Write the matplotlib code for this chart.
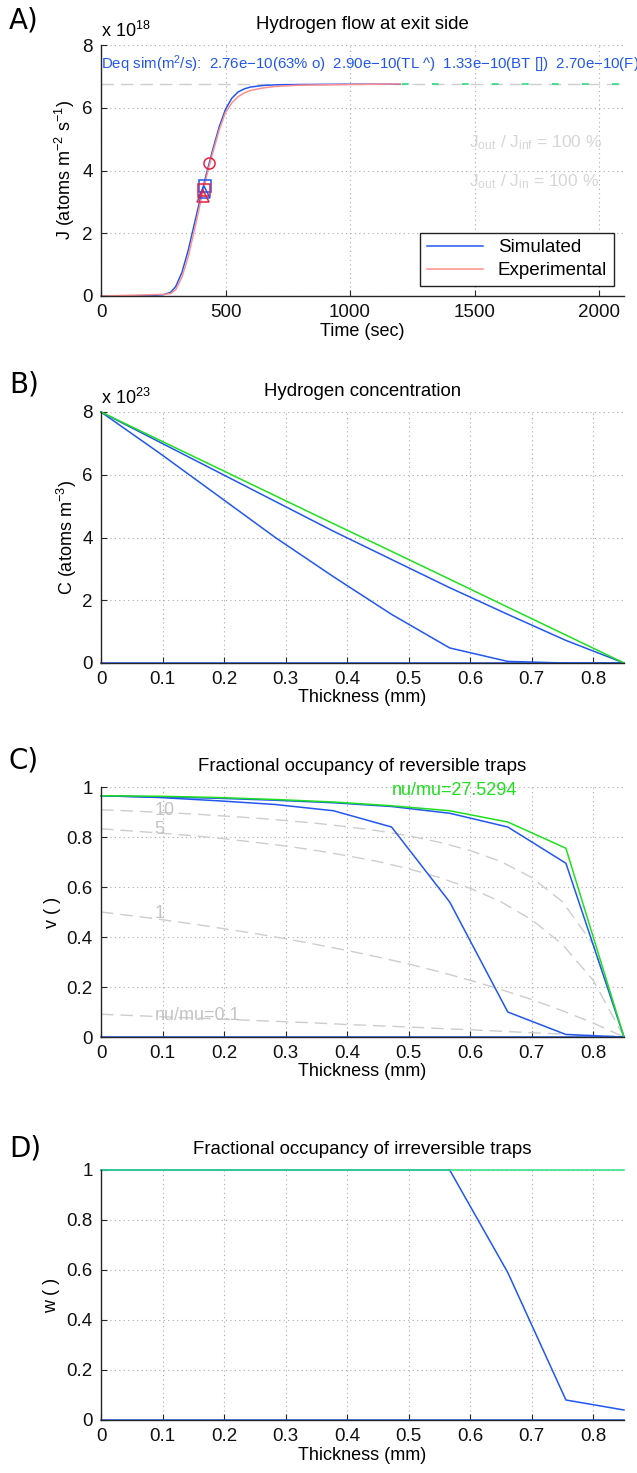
import matplotlib
matplotlib.use('Agg')
import matplotlib.pyplot as plt

plt.rcParams['font.family'] = ['Liberation Sans', 'DejaVu Sans']
plt.rcParams['mathtext.fontset'] = 'custom'
plt.rcParams['mathtext.rm'] = 'Liberation Sans'
plt.rcParams['mathtext.it'] = 'Liberation Sans:italic'
plt.rcParams['mathtext.default'] = 'regular'

BLUE = '#2157ee'
PINK = '#ff8f8f'
RED = '#e8203c'
GREEN = '#1fe01f'
TEAL = '#2bdc84'
GRAY = '#cdcdcd'

# A) hydrogen flow at exit side (J in units of 1e18 atoms m^-2 s^-1)
time_sim = [0, 100, 200, 250, 280, 300, 325, 350, 375, 400, 425, 450, 475, 500,
            525, 550, 575, 600, 650, 700, 800, 1000, 1200]
j_sim = [0, 0, 0.01, 0.04, 0.12, 0.3, 0.75, 1.45, 2.3, 3.15, 3.95, 4.7, 5.4, 5.95,
         6.3, 6.5, 6.6, 6.66, 6.71, 6.73, 6.74, 6.75, 6.75]
time_exp = [0, 100, 200, 250, 280, 300, 325, 350, 375, 400, 425, 450, 475, 500,
            525, 550, 575, 600, 650, 700, 800, 1000, 1200]
j_exp = [0, 0.02, 0.04, 0.05, 0.08, 0.2, 0.6, 1.25, 2.1, 3.0, 3.85, 4.6, 5.3, 5.85,
         6.15, 6.35, 6.47, 6.55, 6.63, 6.68, 6.72, 6.74, 6.76]
j_inf = 6.75
time_end = [1210, 2100]
mark_shape = ['o', 's', 's', '^', '^']
mark_time = [433, 418, 415, 412, 409]
mark_j = [4.25, 3.5, 3.38, 3.3, 3.2]
mark_color = [RED, BLUE, RED, BLUE, RED]
deq_text = (r'Deq sim(m$^2$/s):  2.76e$-$10(63% o)  2.90e$-$10(TL ^)  '
            r'1.33e$-$10(BT [])  2.70e$-$10(F)')

# B) - D) profiles through the thickness
thickness = [0, 0.0944, 0.1889, 0.2833, 0.3778, 0.4722, 0.5667, 0.6611, 0.7556, 0.85]
conc_init = [0, 0, 0, 0, 0, 0, 0, 0, 0, 0]
conc_early = [8, 6.7, 5.35, 4.0, 2.75, 1.55, 0.48, 0.05, 0.0, 0]
conc_mid = [8, 7.05, 6.1, 5.15, 4.2, 3.3, 2.4, 1.55, 0.72, 0]
conc_final = [8, 7.11, 6.22, 5.33, 4.44, 3.56, 2.67, 1.78, 0.89, 0]

v_init = [0, 0, 0, 0, 0, 0, 0, 0, 0, 0]
v_early = [0.965, 0.958, 0.945, 0.93, 0.905, 0.84, 0.54, 0.10, 0.01, 0]
v_mid = [0.965, 0.96, 0.955, 0.947, 0.937, 0.922, 0.895, 0.84, 0.695, 0]
v_final = [0.965, 0.963, 0.958, 0.95, 0.94, 0.925, 0.905, 0.86, 0.755, 0]

# equilibrium occupancy curves (dashed gray)
eq_x = [0, 0.05, 0.1, 0.15, 0.2, 0.25, 0.3, 0.35, 0.4, 0.45, 0.5, 0.55, 0.6,
        0.65, 0.7, 0.75, 0.8, 0.85]
eq_10 = [0.909, 0.904, 0.898, 0.892, 0.884, 0.876, 0.866, 0.855, 0.841, 0.825,
         0.805, 0.779, 0.746, 0.702, 0.638, 0.541, 0.370, 0]
eq_5 = [0.833, 0.824, 0.815, 0.805, 0.793, 0.779, 0.764, 0.746, 0.725, 0.702,
        0.673, 0.638, 0.595, 0.541, 0.469, 0.370, 0.227, 0]
eq_1 = [0.5, 0.485, 0.469, 0.452, 0.433, 0.414, 0.393, 0.370, 0.346, 0.320,
        0.292, 0.261, 0.227, 0.190, 0.150, 0.105, 0.056, 0]
eq_01 = [0.091, 0.086, 0.081, 0.076, 0.071, 0.066, 0.061, 0.056, 0.050, 0.045,
         0.040, 0.034, 0.029, 0.023, 0.017, 0.012, 0.006, 0]
eq_labels = ['10', '5', '1', 'nu/mu=0.1']
eq_label_y = [0.905, 0.83, 0.495, 0.085]

w_init = [0, 0, 0, 0, 0, 0, 0, 0, 0, 0]
w_late = [1, 1, 1, 1, 1, 1, 1, 0.59, 0.08, 0.04]
w_final = [1, 1, 1, 1, 1, 1, 1, 1, 1, 1]

thick_ticks = [0, 0.1, 0.2, 0.3, 0.4, 0.5, 0.6, 0.7, 0.8]
thick_labels = ['0', '0.1', '0.2', '0.3', '0.4', '0.5', '0.6', '0.7', '0.8']
frac_ticks = [0, 0.2, 0.4, 0.6, 0.8, 1]
frac_labels = ['0', '0.2', '0.4', '0.6', '0.8', '1']

W, H = 637, 1473
fig = plt.figure(figsize=(W / 100, H / 100), dpi=100)


def make_axes(top, bottom):
    return fig.add_axes([101 / W, 1 - bottom / H, 523 / W, (bottom - top) / H])


def style(ax, title, xlabel, ylabel, ylabel_x, letter, letter_y):
    h = ax.get_position().height * H
    for side in ['top', 'right']:
        ax.spines[side].set_visible(False)
    for side in ['left', 'bottom']:
        ax.spines[side].set_color('#262626')
        ax.spines[side].set_linewidth(1.0)
    ax.tick_params(direction='in', length=4, width=0.8, labelsize=13.5, pad=6,
                   colors='#262626', labelcolor='#111111')
    ax.grid(True, linestyle=(0, (1, 3)), color='#aaaaaa', linewidth=0.8)
    ax.set_axisbelow(True)
    ax.annotate(title, xy=(0.5, 1), xycoords='axes fraction', xytext=(0, 15),
                textcoords='offset points', ha='center', va='center', fontsize=13.4)
    ax.set_xlabel(xlabel, fontsize=13, va='center')
    ax.xaxis.set_label_coords(0.5, -35 / h)
    ax.set_ylabel(ylabel, fontsize=13, va='center')
    ax.yaxis.set_label_coords(-(101 - ylabel_x) / 523, 0.5)
    fig.text(9 / W, 1 - letter_y / H, letter, fontsize=20, va='center', ha='left',
             family='DejaVu Sans')


# ---- A ----
axA = make_axes(45, 296)
axA.plot([0, 2100], [j_inf, j_inf], color=GRAY, lw=1.0, dashes=(9, 5))
axA.plot(time_end, [j_inf, j_inf], color=TEAL, lw=1.2, dashes=(4, 14))
sim_line, = axA.plot(time_sim, j_sim, color=BLUE, lw=1.1, label='Simulated')
exp_line, = axA.plot(time_exp, j_exp, color=PINK, lw=1.1, label='Experimental')
for m, t, j, c in zip(mark_shape, mark_time, mark_j, mark_color):
    axA.plot([t], [j], marker=m, ms=8, mfc='none', mec=c, mew=1.1, ls='none')
axA.set_xlim(0, 2100)
axA.set_ylim(0, 8)
axA.set_xticks([0, 500, 1000, 1500, 2000])
axA.set_xticklabels(['0', '500', '1000', '1500', '2000'])
axA.set_yticks([0, 2, 4, 6, 8])
axA.set_yticklabels(['0', '2', '4', '6', '8'])
axA.text(0, 7.38, deq_text, color=BLUE, fontsize=10.8, ha='left', va='center',
         clip_on=False)
axA.text(1476, 4.9, r'J$_{out}$ / J$_{inf}$ = 100 %', color='#d6d6d6', fontsize=12.5,
         ha='left', va='center')
axA.text(1476, 3.65, r'J$_{out}$ / J$_{in}$ = 100 %', color='#d6d6d6', fontsize=12.5,
         ha='left', va='center')
axA.annotate(r'x 10$^{18}$', xy=(0, 1), xycoords='axes fraction', xytext=(0, 10),
             textcoords='offset points', ha='left', va='center', fontsize=13)
leg = axA.legend(handles=[sim_line, exp_line], loc='lower right', fontsize=13.5,
                 fancybox=False, framealpha=1, edgecolor='#222222',
                 handlelength=3.0, borderaxespad=0.55, borderpad=0.35,
                 labelspacing=0.3)
leg.get_frame().set_linewidth(1.0)
style(axA, 'Hydrogen flow at exit side', 'Time (sec)',
      r'J (atoms m$^{-2}$ s$^{-1}$)', 65, 'A)', 20)

# ---- B ----
axB = make_axes(412, 663)
axB.plot(thickness, conc_init, color=BLUE, lw=1.1)
axB.plot(thickness, conc_early, color=BLUE, lw=1.1)
axB.plot(thickness, conc_mid, color=BLUE, lw=1.1)
axB.plot(thickness, conc_final, color=GREEN, lw=1.1)
axB.set_xlim(0, 0.85)
axB.set_ylim(0, 8)
axB.set_xticks(thick_ticks)
axB.set_xticklabels(thick_labels)
axB.set_yticks([0, 2, 4, 6, 8])
axB.set_yticklabels(['0', '2', '4', '6', '8'])
axB.annotate(r'x 10$^{23}$', xy=(0, 1), xycoords='axes fraction', xytext=(0, 10),
             textcoords='offset points', ha='left', va='center', fontsize=13)
style(axB, 'Hydrogen concentration', 'Thickness (mm)', r'C (atoms m$^{-3}$)',
      67, 'B)', 385)

# ---- C ----
axC = make_axes(787, 1037)
for eq, lab, ly in zip([eq_10, eq_5, eq_1, eq_01], eq_labels, eq_label_y):
    axC.plot(eq_x, eq, color=GRAY, lw=1.0, dashes=(9, 5))
    axC.text(0.087, ly, lab, color='#c4c4c4', fontsize=13, ha='left', va='center')
axC.plot(thickness, v_init, color=BLUE, lw=1.1)
axC.plot(thickness, v_early, color=BLUE, lw=1.1)
axC.plot(thickness, v_mid, color=BLUE, lw=1.1)
axC.plot(thickness, v_final, color=GREEN, lw=1.1)
axC.text(0.473, 0.985, 'nu/mu=27.5294', color=GREEN, fontsize=13, ha='left',
         va='center')
axC.set_xlim(0, 0.85)
axC.set_ylim(0, 1)
axC.set_xticks(thick_ticks)
axC.set_xticklabels(thick_labels)
axC.set_yticks(frac_ticks)
axC.set_yticklabels(frac_labels)
style(axC, 'Fractional occupancy of reversible traps', 'Thickness (mm)', 'v ( )',
      52, 'C)', 760)

# ---- D ----
axD = make_axes(1170, 1420)
axD.plot(thickness, w_init, color=BLUE, lw=1.1)
axD.plot(thickness, w_late, color=BLUE, lw=1.1)
axD.plot(thickness, w_final, color=TEAL, lw=1.1)
axD.set_xlim(0, 0.85)
axD.set_ylim(0, 1)
axD.set_xticks(thick_ticks)
axD.set_xticklabels(thick_labels)
axD.set_yticks(frac_ticks)
axD.set_yticklabels(frac_labels)
style(axD, 'Fractional occupancy of irreversible traps', 'Thickness (mm)', 'w ( )',
      52, 'D)', 1148)

for ax in [axA, axB, axC, axD]:
    for line in ax.get_lines():
        line.set_clip_on(False)

fig.savefig('out.png', dpi=100)
